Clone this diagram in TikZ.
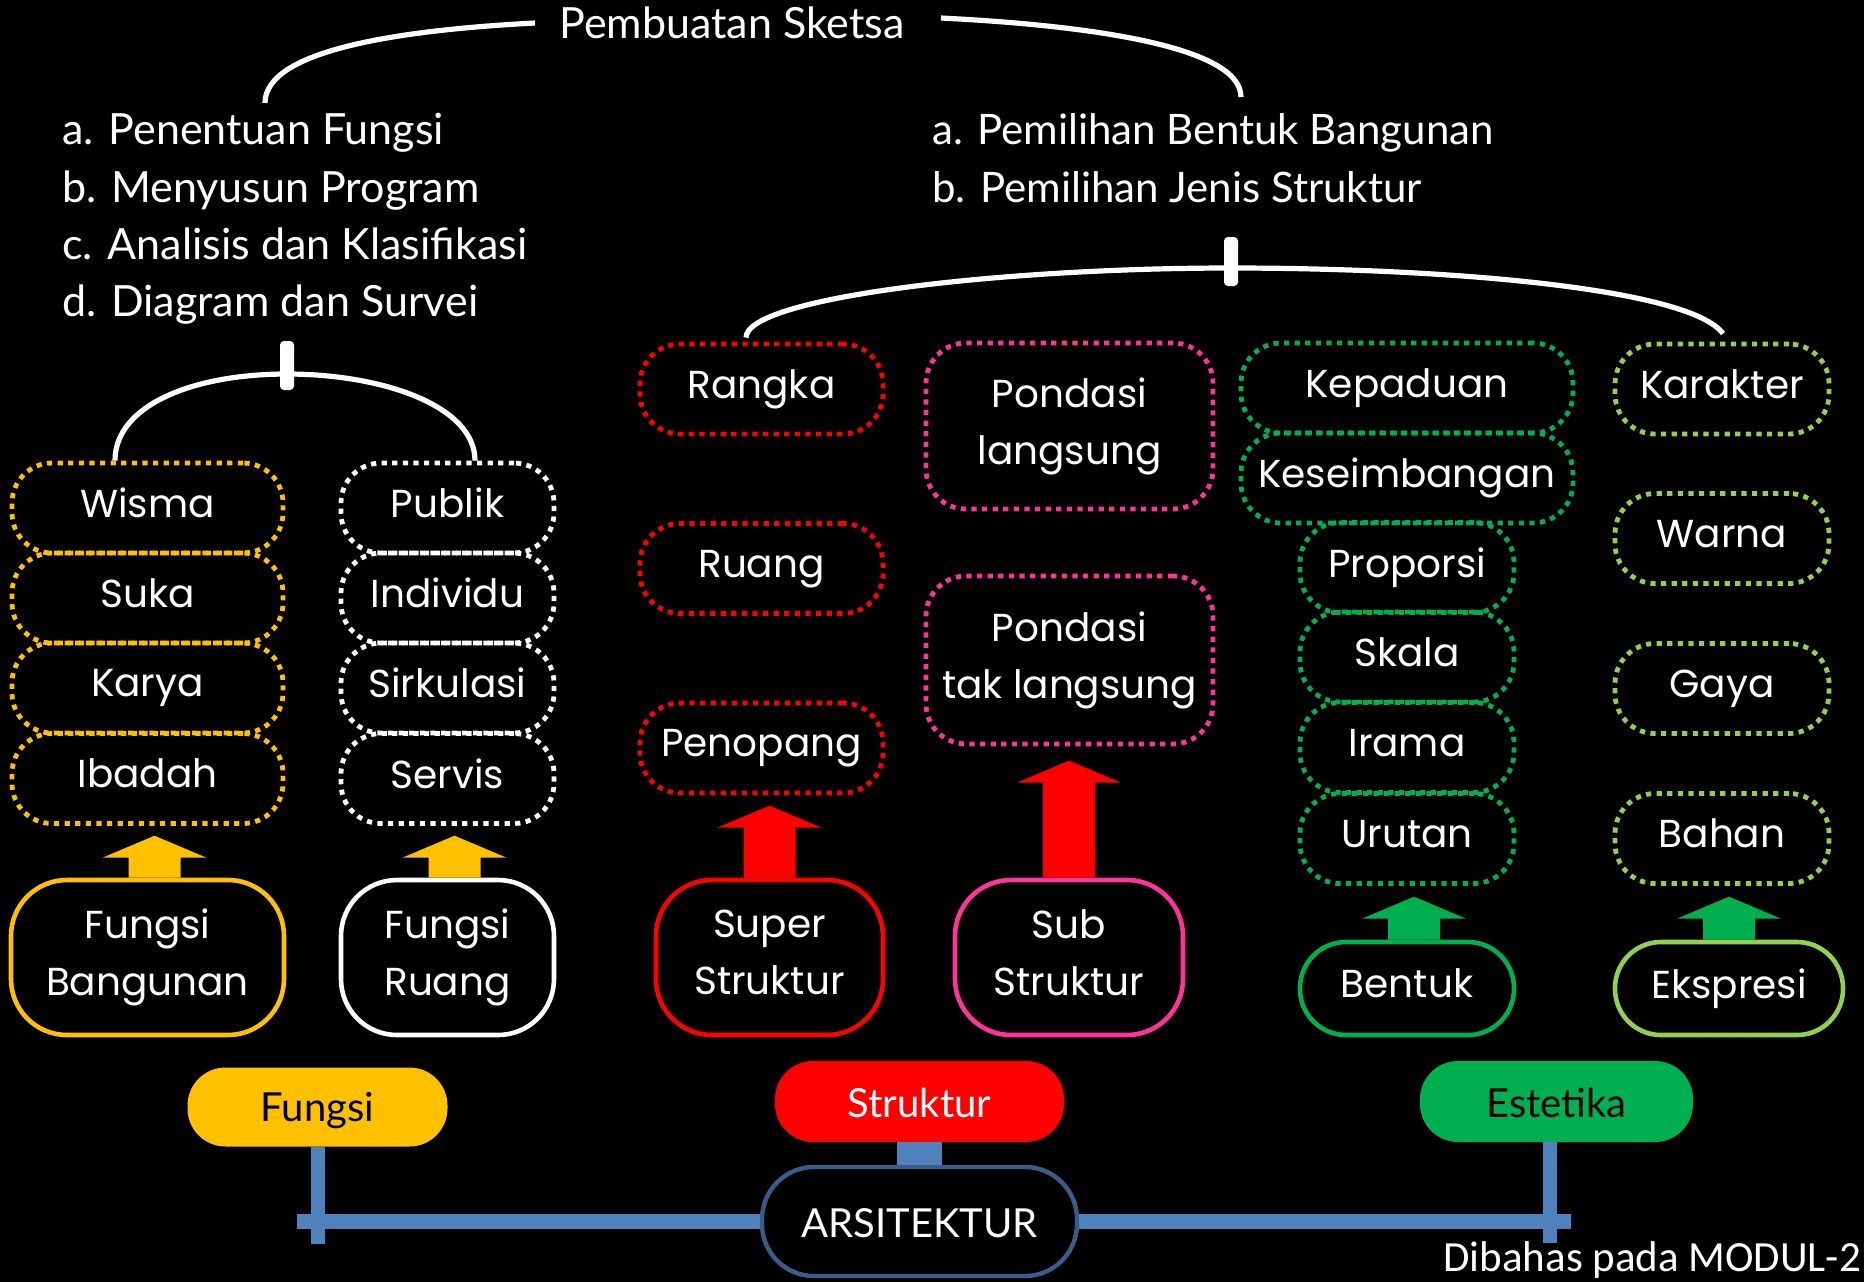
\documentclass[tikz,border=0pt]{standalone}
\usepackage{fontspec}
\setmainfont{Poppins}
\newfontfamily\lato{Lato}
\newfontfamily\carl{Carlito}
\usetikzlibrary{calc}
\definecolor{cyel}{HTML}{FFC000}
\definecolor{cred}{HTML}{FF0000}
\definecolor{cpink}{HTML}{FF3399}
\definecolor{cgreen}{HTML}{00B050}
\definecolor{clgreen}{HTML}{92D050}
\definecolor{cblue}{HTML}{4F81BD}
\definecolor{cdblue}{HTML}{385D8A}
\newcommand\st{\rule[-5pt]{0pt}{19pt}}
\newcommand\tst{\rule[-5pt]{0pt}{26pt}}
\newcommand\pst{\rule[-2pt]{0pt}{20pt}}
\newcommand\boxfont{\fontsize{19.5}{28.5}\selectfont}
\newcommand\listfont{\lato\fontsize{21}{24}\selectfont}
\newcommand\biglist{\lato\fontsize{21.5}{24}\selectfont}
\newcommand\pillfont{\lato\fontsize{20}{24}\selectfont}
% block arrow: colour, start coordinate, length (px)
\newcommand\barrow[3]{%
  \fill[#1] (#2) ++(-26,0) -- ++(0,-#3+22) -- ++(-26,0) -- ++(52,-22) -- ++(52,22)
    -- ++(-26,0) -- ++(0,#3-22) -- cycle;}
\tikzset{
  dbox/.style={draw=#1, line width=2.4pt, dash pattern=on 2.6pt off 2.7pt,
    rounded corners=20pt, text=white, inner sep=0pt, align=center,
    font=\boxfont, execute at begin node=\st},
  sbox/.style={draw=#1, line width=2.3pt, rounded corners=28pt, text=white,
    inner sep=0pt, align=center, font=\boxfont, execute at begin node=\st},
  pill/.style={fill=#1, rounded corners=19pt, inner sep=0pt, font=\pillfont,
    execute at begin node=\pst},
  wline/.style={white, line width=2.6pt},
  tickbox/.style={fill=white, rounded corners=2pt, minimum width=7pt,
    minimum height=24.5pt, inner sep=0pt},
  lst/.style={text=white, font=\listfont, anchor=base west, inner sep=0pt},
  bluebar/.style={cblue, line width=7.5pt},
  bluev/.style={cblue, line width=7pt},
}
\begin{document}
\begin{tikzpicture}[x=0.5pt,y=-0.5pt]
\fill[black] (0,0) rectangle (1864,1282);
\useasboundingbox (0,0) rectangle (1864,1282);

% ---- top titles and lists
\node[lst, font=\biglist] (pemb) at (559,38) {Pembuatan Sketsa};
\node[lst, font=\biglist] (la) at (62,144) {a. Penentuan Fungsi};
\node[lst, font=\biglist] (lb) at (62,202) {b. Menyusun Program};
\node[lst, font=\biglist] (lc) at (62,259) {c. Analisis dan Klasifikasi};
\node[lst, font=\biglist] (ld) at (62,316) {d. Diagram dan Survei};
\node[lst] (ra) at (932,144) {a. Pemilihan Bentuk Bangunan};
\node[lst] (rb) at (932,202) {b. Pemilihan Jenis Struktur};

\coordinate (tl0) at (535,23);
\coordinate (tl1) at (265,103);
\coordinate (tr0) at (941,18);
\coordinate (tr1) at (1241,97);
\draw[wline] (tl0) .. controls +(-135,7) and +(0,-53) .. (tl1);
\draw[wline] (tr0) .. controls +(140,7) and +(0,-52) .. (tr1);

% ---- Fungsi columns
\node[dbox=cyel, minimum width=135.5pt, minimum height=45pt] (wisma) at (147.5,508) {Wisma};
\node[dbox=cyel, minimum width=135.5pt, minimum height=45pt] (suka) at (147.5,598) {Suka};
\node[dbox=cyel, minimum width=135.5pt, minimum height=45pt] (karya) at (147.5,688) {Karya};
\node[dbox=cyel, minimum width=135.5pt, minimum height=45pt] (ibadah) at (147.5,778.5) {Ibadah};
\node[dbox=white, minimum width=106.5pt, minimum height=45pt] (publik) at (447.5,508) {Publik};
\node[dbox=white, minimum width=106.5pt, minimum height=45pt] (individu) at (447.5,598) {Individu};
\node[dbox=white, minimum width=106.5pt, minimum height=45pt] (sirkulasi) at (447.5,688) {Sirkulasi};
\node[dbox=white, minimum width=106.5pt, minimum height=45pt] (servis) at (447.5,778.5) {Servis};
\node[sbox=cyel, minimum width=136.5pt, minimum height=77.5pt] (fb) at (147.5,957.5) {Fungsi\\\st Bangunan};
\node[sbox=white, minimum width=106.5pt, minimum height=77.5pt] (fr) at (447.5,957.5) {Fungsi\\\st Ruang};

\node[tickbox] (tick1) at (287,365.5) {};
\coordinate (pk1) at (287,374);
\draw[wline] ($(wisma.north)+(-32.5,0)$) .. controls +(0,-55) and +(-95,0) .. (pk1)
  .. controls +(95,0) and +(0,-55) .. ($(publik.north)+(27.5,0)$);

\coordinate (afb) at ($(fb.north)+(7,0)$);
\coordinate (afr) at ($(fr.north)+(7,0)$);
\barrow{cyel}{afb}{42}
\barrow{cyel}{afr}{42}

% ---- Struktur columns
\node[dbox=cred, minimum width=121.5pt, minimum height=45pt] (rangka) at (761.5,389) {Rangka};
\node[dbox=cred, minimum width=121.5pt, minimum height=45pt] (ruang) at (761.5,568.5) {Ruang};
\node[dbox=cred, minimum width=121.5pt, minimum height=45pt] (penopang) at (761.5,748) {Penopang};
\node[dbox=cpink, minimum width=143.5pt, minimum height=83pt,
  execute at begin node=\tst] (pl) at (1069.5,426) {Pondasi\\\st langsung};
\node[dbox=cpink, minimum width=143.5pt, minimum height=84pt] (ptl) at (1069.5,660) {Pondasi\\\st tak langsung};
\node[sbox=cred, minimum width=113.5pt, minimum height=77.5pt] (super) at (769.5,957.5) {Super\\\st Struktur};
\node[sbox=cpink, minimum width=114pt, minimum height=77.5pt] (sub) at (1069,957.5) {Sub\\\st Struktur};
\barrow{cred}{super.north}{72}
\barrow{cred}{sub.north}{117}

% ---- Estetika columns
\node[dbox=cgreen, minimum width=166pt, minimum height=45pt] (kepaduan) at (1407,388) {Kepaduan};
\node[dbox=cgreen, minimum width=166pt, minimum height=45pt] (keseimbangan) at (1407,478) {Keseimbangan};
\node[dbox=cgreen, minimum width=107pt, minimum height=45pt] (proporsi) at (1407,567.5) {Proporsi};
\node[dbox=cgreen, minimum width=107pt, minimum height=45pt] (skala) at (1407,657) {Skala};
\node[dbox=cgreen, minimum width=107pt, minimum height=45pt] (irama) at (1407,747.5) {Irama};
\node[dbox=cgreen, minimum width=107pt, minimum height=45pt] (urutan) at (1407,838.5) {Urutan};
\node[dbox=clgreen, minimum width=107pt, minimum height=45pt] (karakter) at (1722,389) {Karakter};
\node[dbox=clgreen, minimum width=107pt, minimum height=45pt] (warna) at (1722,538.5) {Warna};
\node[dbox=clgreen, minimum width=107pt, minimum height=45pt] (gaya) at (1722,688.5) {Gaya};
\node[dbox=clgreen, minimum width=107pt, minimum height=45pt] (bahan) at (1722,838.5) {Bahan};
\node[sbox=cgreen, rounded corners=23pt, minimum width=107pt, minimum height=46.5pt] (bentuk) at (1407,988.5) {Bentuk};
\node[sbox=clgreen, rounded corners=23pt, minimum width=114pt, minimum height=46.5pt] (ekspresi) at (1729,988.5) {Ekspresi};
\coordinate (abt) at ($(bentuk.north)+(7,0)$);
\barrow{cgreen}{abt}{43}
\barrow{cgreen}{ekspresi.north}{43}

\node[tickbox] (tick2) at (1231,261.5) {};
\coordinate (pk2) at (1231,268);
\draw[wline] ($(rangka.north)+(-15.5,-4)$) .. controls +(0,-40) and +(-231,0) .. (pk2)
  .. controls +(219,0) and +(-33,-45) .. ($(karakter.north)+(1,-8)$);

% ---- bottom
\node[pill=cyel, minimum width=130pt, minimum height=39.5pt, text=black] (fungsi) at (317.5,1107) {Fungsi};
\node[pill=cred, minimum width=144.5pt, minimum height=40.5pt, text=white] (struktur) at (919.5,1101.5) {Struktur};
\node[pill=cgreen, minimum width=136.5pt, minimum height=40.5pt, text=black] (estetika) at (1556.5,1101.5) {Estetika};
\node[draw=cdblue, fill=black, line width=2.2pt, rounded corners=26pt, minimum width=157.5pt,
  minimum height=54.5pt, inner sep=0pt, text=white, font=\pillfont, execute at begin node=\pst]
  (arsi) at (919.5,1221.5) {ARSITEKTUR};
\coordinate (barL) at (297,1221);
\coordinate (barR) at (1571,1221);
\draw[bluebar] (barL) -- (arsi.west |- barL);
\draw[bluebar] (arsi.east |- barR) -- (barR);
\draw[bluev] (fungsi.south) -- ++(0,97);
\draw[bluev] ($(estetika.south)+(-7,0)$) -- ++(0,101);
\draw[cblue, line width=22.5pt] (struktur.south) -- (arsi.north);

\node[anchor=base west, inner sep=0pt, text=white, font=\carl\fontsize{21.5}{24}\selectfont]
  (dibahas) at (1443,1271) {Dibahas pada MODUL-2};
\end{tikzpicture}
\end{document}
